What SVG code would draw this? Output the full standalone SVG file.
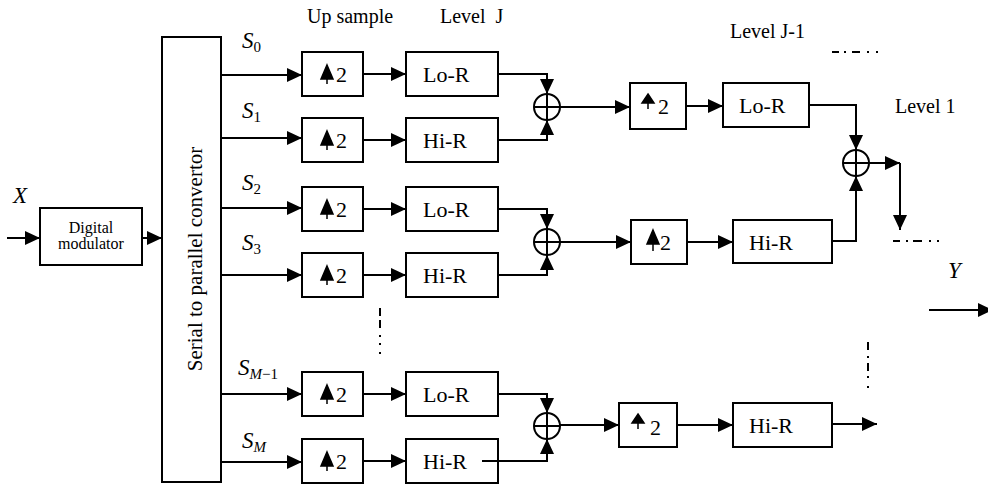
<svg xmlns="http://www.w3.org/2000/svg" width="988" height="487" viewBox="0 0 988 487" font-family="'Liberation Serif', serif">
<defs>
<marker id="ah" markerUnits="userSpaceOnUse" markerWidth="16" markerHeight="14" refX="15" refY="7" orient="auto"><path d="M0,0 L15,7 L0,14 Z" fill="#000"/></marker>
</defs>
<style>
.box{fill:#fff;stroke:#000;stroke-width:2}
.ln{fill:none;stroke:#000;stroke-width:2}
.arr{fill:none;stroke:#000;stroke-width:2;marker-end:url(#ah)}
.up{fill:#000;stroke:#000;stroke-width:1.5}
.sum{fill:#fff;stroke:#000;stroke-width:2}
text{font-family:'Liberation Serif', serif;fill:#000}
.lbl{font-size:20px}
.bt{font-size:22px}
.sm{font-size:16px}
.s{font-size:23px;font-style:italic}
.sub{font-size:15px;font-style:normal}
</style>
<rect width="988" height="487" fill="#fff"/>

<g id="labels">
<text class="lbl" x="307" y="23">Up sample</text>
<text class="lbl" x="440" y="23" xml:space="preserve">Level  J</text>
<text class="lbl" x="730" y="38">Level J-1</text>
<text class="lbl" x="895" y="113">Level 1</text>
<text class="s" x="13" y="203">X</text>
<text class="s" x="948" y="278">Y</text>
<text class="s" x="242" y="48">S<tspan class="sub" dy="4">0</tspan></text>
<text class="s" x="242" y="118">S<tspan class="sub" dy="4">1</tspan></text>
<text class="s" x="242" y="190">S<tspan class="sub" dy="4">2</tspan></text>
<text class="s" x="242" y="250">S<tspan class="sub" dy="4">3</tspan></text>
<text class="s" x="238" y="375">S<tspan class="sub" dy="4" style="font-style:italic">M</tspan><tspan class="sub">−1</tspan></text>
<text class="s" x="242" y="448">S<tspan class="sub" dy="4" style="font-style:italic">M</tspan></text>
</g>

<g id="modulator">
<rect class="box" x="40" y="208" width="102" height="57"/>
<text class="sm" x="91" y="233" text-anchor="middle">Digital</text>
<text class="sm" x="91" y="249" text-anchor="middle">modulator</text>
</g>

<g id="serial">
<rect class="box" x="162" y="37" width="59" height="445"/>
<text class="bt" transform="translate(202,259) rotate(-90)" text-anchor="middle" style="font-size:21px">Serial to parallel convertor</text>
</g>

<g id="up0"><rect class="box" x="302" y="52" width="61" height="44"/><path class="up" d="M327,65 L333,79 L321,79 Z M327,79 V84"/><text class="bt" x="336" y="82">2</text></g>
<g id="up1"><rect class="box" x="302" y="118" width="61" height="44"/><path class="up" d="M327,131 L333,145 L321,145 Z M327,145 V150"/><text class="bt" x="336" y="148">2</text></g>
<g id="up2"><rect class="box" x="302" y="187" width="61" height="44"/><path class="up" d="M327,200 L333,214 L321,214 Z M327,214 V219"/><text class="bt" x="336" y="217">2</text></g>
<g id="up3"><rect class="box" x="302" y="253" width="61" height="44"/><path class="up" d="M327,266 L333,280 L321,280 Z M327,280 V285"/><text class="bt" x="336" y="283">2</text></g>
<g id="up4"><rect class="box" x="302" y="372" width="61" height="44"/><path class="up" d="M327,385 L333,399 L321,399 Z M327,399 V404"/><text class="bt" x="336" y="402">2</text></g>
<g id="up5"><rect class="box" x="302" y="439" width="61" height="44"/><path class="up" d="M327,452 L333,466 L321,466 Z M327,466 V471"/><text class="bt" x="336" y="469">2</text></g>

<g id="f0"><rect class="box" x="406" y="52" width="92" height="44"/><text class="bt" x="423" y="82">Lo-R</text></g>
<g id="f1"><rect class="box" x="406" y="118" width="92" height="44"/><text class="bt" x="423" y="148">Hi-R</text></g>
<g id="f2"><rect class="box" x="406" y="187" width="92" height="44"/><text class="bt" x="423" y="217">Lo-R</text></g>
<g id="f3"><rect class="box" x="406" y="253" width="92" height="44"/><text class="bt" x="423" y="283">Hi-R</text></g>
<g id="f4"><rect class="box" x="406" y="372" width="92" height="44"/><text class="bt" x="423" y="402">Lo-R</text></g>
<g id="f5"><rect class="box" x="406" y="439" width="92" height="44"/><text class="bt" x="423" y="469">Hi-R</text></g>

<g id="sum1"><circle class="sum" cx="547" cy="107" r="13"/><path class="ln" d="M534,107 H560 M547,94 V120"/></g>
<g id="sum2"><circle class="sum" cx="547" cy="242" r="13"/><path class="ln" d="M534,242 H560 M547,229 V255"/></g>
<g id="sum3"><circle class="sum" cx="547" cy="426" r="13"/><path class="ln" d="M534,426 H560 M547,413 V439"/></g>
<g id="sum4"><circle class="sum" cx="856" cy="163" r="13"/><path class="ln" d="M843,163 H869 M856,150 V176"/></g>

<g id="up6"><rect class="box" x="630" y="83" width="56" height="46"/><path class="up" d="M648,94 L654,103 L642,103 Z M648,103 V109"/><text class="bt" x="658" y="114">2</text></g>
<g id="f6"><rect class="box" x="723" y="83" width="86" height="44"/><text class="bt" x="739" y="113">Lo-R</text></g>
<g id="up7"><rect class="box" x="631" y="220" width="56" height="44"/><path class="up" d="M653,230 L659,244 L647,244 Z M653,244 V251"/><text class="bt" x="660" y="250">2</text></g>
<g id="f7"><rect class="box" x="733" y="220" width="99" height="43"/><text class="bt" x="749" y="250">Hi-R</text></g>
<g id="up8"><rect class="box" x="619" y="403" width="58" height="44"/><path class="up" d="M638,414 L644,423 L632,423 Z M638,423 V429"/><text class="bt" x="650" y="435">2</text></g>
<g id="f8"><rect class="box" x="733" y="403" width="99" height="44"/><text class="bt" x="749" y="433">Hi-R</text></g>

<g id="connectors">
<path class="arr" d="M7,238 H40"/>
<path class="arr" d="M142,238 H162"/>
<path class="arr" d="M221,75 H302"/>
<path class="arr" d="M221,138 H302"/>
<path class="arr" d="M221,208 H302"/>
<path class="arr" d="M221,275 H302"/>
<path class="arr" d="M221,394 H302"/>
<path class="arr" d="M221,462 H302"/>
<path class="arr" d="M363,74 H406"/>
<path class="arr" d="M363,140 H406"/>
<path class="arr" d="M363,209 H406"/>
<path class="arr" d="M363,275 H406"/>
<path class="arr" d="M363,394 H406"/>
<path class="arr" d="M363,461 H406"/>
<path class="arr" d="M498,74 H547 V94"/>
<path class="arr" d="M498,140 H547 V120"/>
<path class="arr" d="M498,209 H547 V229"/>
<path class="arr" d="M498,275 H547 V255"/>
<path class="arr" d="M498,394 H547 V413"/>
<path class="arr" d="M482,461 H547 V439"/>
<path class="arr" d="M560,107 H630"/>
<path class="arr" d="M686,106 H723"/>
<path class="arr" d="M809,105 H856 V150"/>
<path class="arr" d="M560,242 H631"/>
<path class="arr" d="M687,242 H733"/>
<path class="arr" d="M832,241 H856 V176"/>
<path class="arr" d="M869,163 H900"/>
<path class="arr" d="M900,163 V230"/>
<path class="arr" d="M560,425 H619"/>
<path class="arr" d="M677,425 H733"/>
<path class="arr" d="M832,424 H877"/>
<path class="arr" d="M929,310 H993"/>
</g>

<g id="ellipses">
<path class="ln" d="M832,52 h7 M844,52 h2 M852,52 h8 M867,52 h2 M876,52 h2"/>
<path class="ln" d="M893,241 h7 M906,241 h2 M913,241 h9 M929,241 h2 M937,241 h2"/>
<path class="ln" d="M868,342 v8 M868,356 v2 M868,363 v8 M868,376 v2 M868,386 v2"/>
<path class="ln" d="M380,308 v8 M380,320 v8 M380,335 v2 M380,343 v2 M380,352 v2"/>
</g>
</svg>
